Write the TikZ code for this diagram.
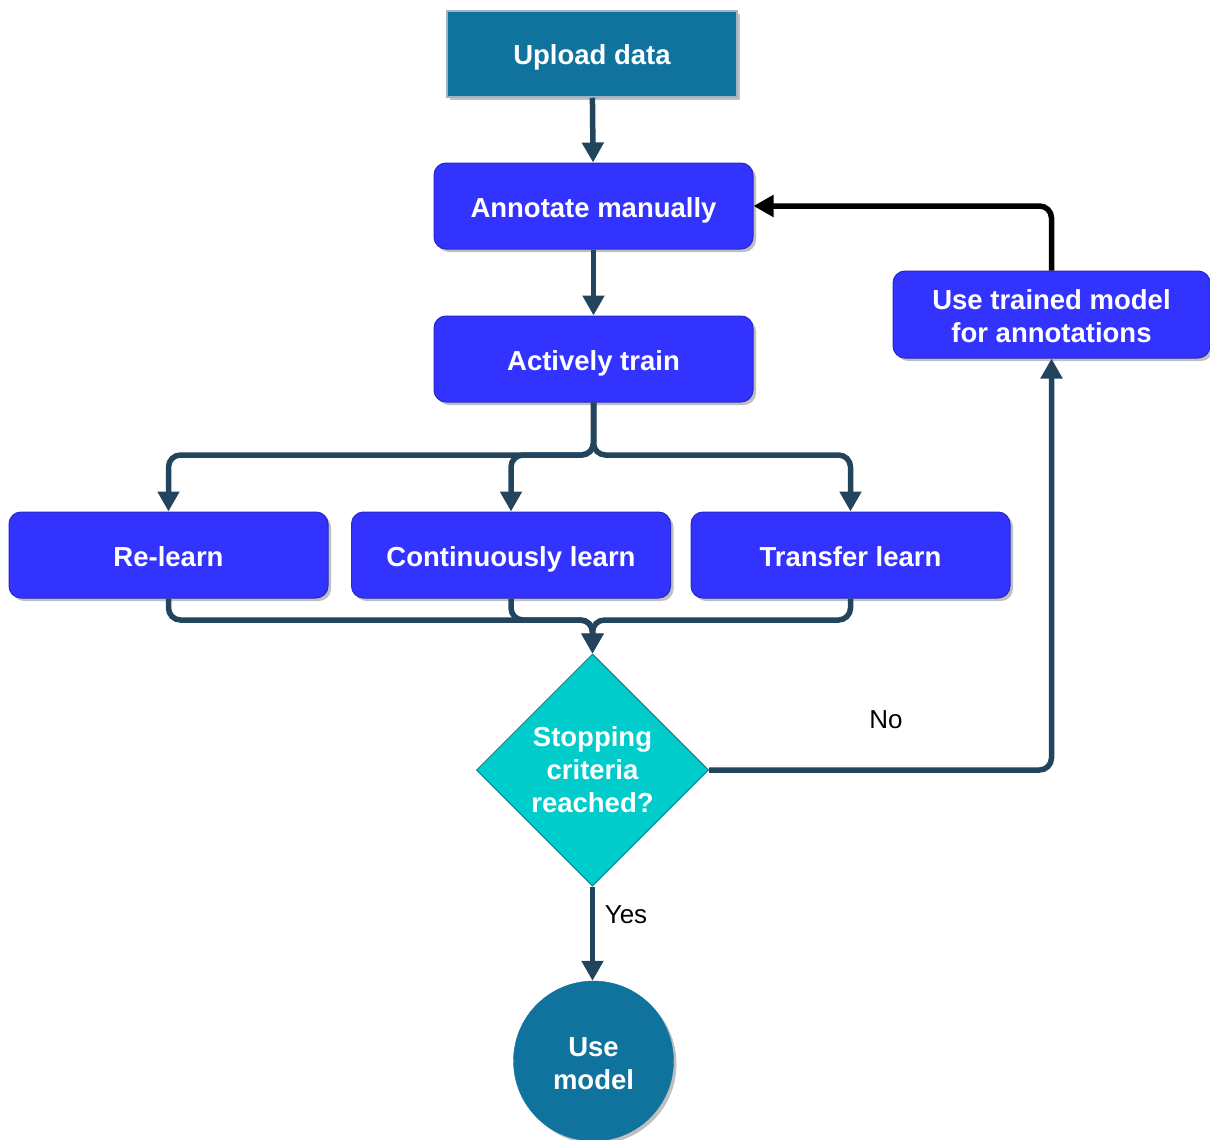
\documentclass[tikz,border=0pt]{standalone}
\usepackage{fontspec}
\setmainfont{Liberation Sans}
\usetikzlibrary{arrows.meta,shadows,shapes.geometric}
\definecolor{bluebox}{HTML}{3333FF}
\definecolor{blueedge}{HTML}{2828C8}
\definecolor{tealbox}{HTML}{10739E}
\definecolor{tealedge}{HTML}{9DB4C6}
\definecolor{cyanbox}{HTML}{00CCCC}
\definecolor{cyanedge}{HTML}{0E8088}
\definecolor{link}{HTML}{23445D}
% strut that lowers a multi-line label slightly inside its shape
\newcommand{\lowstrut}{\rule{0pt}{24pt}}

\begin{document}
\begin{tikzpicture}[x=1pt,y=-1pt,
  lbl/.style={font=\fontsize{27.5}{33}\selectfont\bfseries, text=white, align=center},
  oneline/.style={text height=24pt, text depth=2pt},
  shade/.style={drop shadow={shadow xshift=3pt,shadow yshift=-3pt,fill=black,opacity=0.25}},
  stepbox/.style={lbl, shade, rectangle, rounded corners=12pt, fill=bluebox,
    draw=blueedge, line width=1pt, minimum width=319pt, minimum height=86pt, inner sep=0pt},
  uploadbox/.style={lbl, oneline, shade, rectangle, fill=tealbox, draw=tealedge,
    line width=1.5pt, minimum width=290pt, minimum height=86pt, inner sep=0pt},
  decision/.style={lbl, diamond, aspect=1, fill=cyanbox, draw=cyanedge,
    line width=1pt, minimum size=232pt, inner sep=0pt},
  endcirc/.style={lbl, shade, circle, fill=tealbox, draw=tealbox,
    minimum size=160pt, inner sep=0pt},
  tag/.style={font=\fontsize{26}{30}\selectfont, text=black},
  arr/.style={draw=link, line width=5.5pt, rounded corners=12pt,
    -{Triangle[length=20pt,width=21pt]}},
  back/.style={arr, draw=black}
]
\useasboundingbox (0,0) rectangle (1210,1140);

% process steps
\node[uploadbox] (up) at (592,54) {Upload data};
\node[stepbox, oneline] (ann) at (593.5,206) {Annotate manually};
\node[stepbox, oneline] (train) at (593.5,359) {Actively train};
\node[stepbox, oneline] (rel) at (168.5,555) {Re-learn};
\node[stepbox, oneline] (cont) at (511,555) {Continuously learn};
\node[stepbox, oneline] (tr) at (850.5,555) {Transfer learn};
\node[stepbox, minimum width=317pt, minimum height=87pt] (utm) at (1051.5,314.5)
  {\lowstrut Use trained model\\for annotations};
\node[decision] (dec) at (592.5,770) {Stopping\\criteria\\reached?};
\node[endcirc] (use) at (593.5,1061) {\lowstrut Use\\model};

% main flow
\draw[arr] (up) -- (ann);
\draw[arr] (ann) -- (train);

% fan out to the three learning modes
\coordinate (split) at (593.5,455);
\draw[arr] (train.south) -- (split) -| (rel.north);
\draw[arr] (train.south) -- (split) -| (cont.north);
\draw[arr] (train.south) -- (split) -| (tr.north);

% merge into the decision
\coordinate (join) at (592.5,620);
\draw[arr] (rel.south) |- (join) -- (dec.north);
\draw[arr] (cont.south) |- (join) -- (dec.north);
\draw[arr] (tr.south) |- (join) -- (dec.north);

% decision outcomes
\draw[arr] (dec.east) -| (utm.south);
\node[tag] (no) at (886,720) {No};
\draw[arr] (dec.south) -- (dec.south |- use.north);
\node[tag] (yes) at (626,915) {Yes};

% loop back to manual annotation
\draw[back] (utm.north) |- (ann.east);
\end{tikzpicture}
\end{document}
